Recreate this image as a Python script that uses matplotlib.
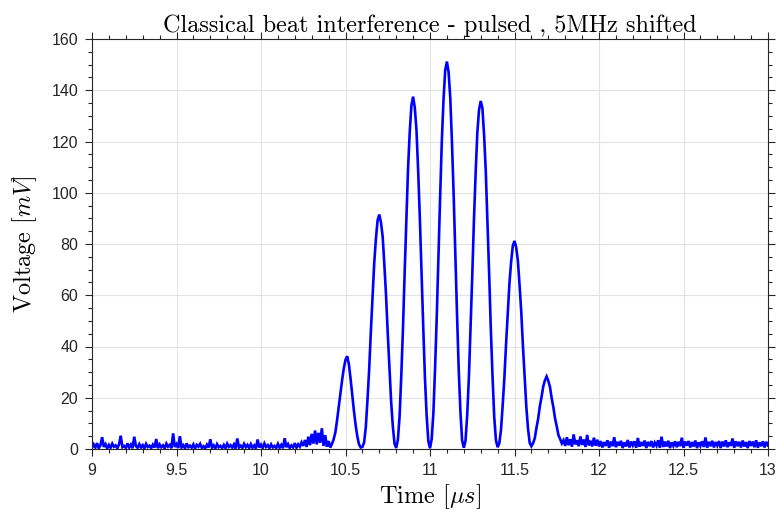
#!/usr/bin/env python3
import numpy as np
import matplotlib
import matplotlib.pyplot as plt
from matplotlib.ticker import MultipleLocator

matplotlib.use("Agg")

# ── Data (0.01 us steps from 9.00 to 13.00) ──────────────────────────────────
T_START = 9.0
T_STOP = 13.0

# flat baseline 9.00 .. 10.24 us
baseline_pre = [
    0.4, 1.8, 0.6, 2.3, 0.3, 1.5, 4.6, 0.8, 1.9, 0.2,
    1.6, 0.5, 2.1, 0.9, 1.4, 0.3, 1.8, 5.2, 0.7, 1.2,
    0.4, 2.2, 0.6, 1.7, 0.3, 4.8, 1.1, 0.5, 1.9, 0.6,
    1.5, 0.2, 2.0, 0.8, 1.3, 0.4, 1.7, 0.6, 3.9, 0.3,
    1.8, 0.7, 1.4, 0.2, 2.1, 0.9, 1.6, 0.3, 6.1, 0.8,
    1.9, 0.4, 5.0, 0.6, 1.5, 0.3, 2.2, 0.7, 1.3, 0.5,
    1.8, 0.2, 1.6, 0.9, 2.0, 0.4, 1.1, 0.3, 1.7, 0.6,
    3.8, 0.5, 1.4, 0.2, 1.9, 0.7, 1.2, 0.4, 1.6, 0.3,
    2.1, 0.8, 1.5, 0.5, 1.8, 0.2, 4.1, 0.6, 1.3, 0.4,
    2.0, 0.7, 1.6, 0.3, 1.9, 0.5, 1.4, 0.2, 3.7, 0.6,
    1.7, 0.4, 2.2, 0.8, 1.5, 0.3, 1.8, 0.6, 1.2, 0.4,
    2.0, 0.5, 1.6, 0.3, 4.2, 0.7, 1.9, 0.4, 1.4, 0.6,
    2.3, 0.5, 1.8, 0.9, 2.6,
]
# ringing just before the pulse 10.25 .. 10.41 us
pre_pulse = [1.2, 3.5, 0.8, 4.8, 1.5, 5.9, 2.1, 7.2, 1.8, 6.3,
             2.4, 8.1, 1.2, 5.4, 0.9, 3.1, 0.6]
# beat lobes
lobe_1 = [2.0, 3.8, 6.5, 11.2, 16.4, 21.8, 26.9, 31.5, 34.8, 36.2,
          33.1, 27.4, 21.2, 14.8, 9.3, 4.9, 1.8, 0.6]
lobe_2 = [0.8, 2.5, 8.4, 19.1, 31.0, 45.8, 59.2, 72.6, 82.1, 89.3,
          91.5, 88.4, 82.8, 71.9, 59.8, 45.1, 31.6, 18.5, 8.9, 2.1]
lobe_3 = [0.4, 3.6, 12.7, 28.5, 46.9, 68.8, 89.2, 109.3, 123.6, 134.1,
          137.5, 133.2, 124.4, 108.5, 89.9, 68.1, 47.6, 27.9, 13.3, 3.1]
lobe_4 = [0.3, 3.9, 14.0, 31.5, 51.8, 75.9, 98.5, 120.3, 136.4, 147.8,
          151.2, 147.1, 137.0, 119.6, 99.2, 75.1, 52.4, 30.8, 14.6, 3.4]
lobe_5 = [0.5, 3.1, 13.2, 27.7, 47.4, 67.6, 89.3, 107.6, 123.4, 132.3,
          135.8, 133.1, 122.6, 108.4, 88.7, 68.4, 46.6, 28.3, 12.6, 3.5]
lobe_6 = [0.7, 2.2, 7.4, 17.0, 27.6, 40.9, 52.7, 64.6, 73.0, 79.3,
          81.2, 78.7, 73.5, 63.9, 53.4, 40.1, 28.2, 16.4, 7.9, 2.4]
lobe_7 = [1.1, 2.3, 4.2, 8.3, 11.8, 16.7, 20.3, 24.4, 26.8, 28.3,
          26.6, 24.2, 19.8, 16.3, 11.9, 8.8, 5.4, 3.9, 2.2, 3.4]
# tail after the pulse 11.80 .. 11.99 us
post_pulse = [1.2, 4.6, 1.5, 3.8, 0.9, 5.7, 1.8, 3.4, 1.1, 4.9,
              1.6, 3.7, 0.8, 5.5, 1.4, 3.2, 1.0, 4.4, 1.3, 3.6]
# baseline 12.00 .. 13.00 us
baseline_post = [
    1.0, 3.1, 0.6, 2.7, 1.2, 3.4, 0.5, 2.9, 1.1, 4.6,
    0.7, 2.8, 1.3, 3.2, 0.4, 2.6, 1.0, 3.5, 0.6, 2.9,
    1.4, 3.0, 0.5, 4.3, 0.9, 2.7, 1.2, 3.3, 0.4, 2.8,
    1.1, 3.1, 0.6, 2.5, 1.3, 3.4, 0.5, 4.8, 0.8, 2.9,
    1.0, 3.2, 0.4, 2.6, 1.2, 3.0, 0.7, 2.8, 1.1, 4.4,
    0.5, 2.9, 1.3, 3.1, 0.6, 2.7, 1.0, 3.3, 0.4, 2.6,
    1.2, 3.0, 0.8, 4.5, 0.5, 2.8, 1.1, 3.2, 0.6, 2.7,
    1.3, 3.1, 0.4, 2.9, 1.0, 3.4, 0.7, 2.6, 1.2, 4.1,
    0.5, 3.0, 1.1, 2.8, 0.6, 3.3, 1.0, 2.7, 0.4, 3.1,
    1.2, 2.9, 0.7, 3.4, 0.5, 2.6, 1.1, 3.0, 0.6, 2.8,
    1.4,
]

X_TICKS = [9, 9.5, 10, 10.5, 11, 11.5, 12, 12.5, 13]
X_TICK_LABELS = ["9", "9.5", "10", "10.5", "11", "11.5", "12", "12.5", "13"]
Y_TICKS = [0, 20, 40, 60, 80, 100, 120, 140, 160]

TITLE = "Classical beat interference - pulsed , 5MHz shifted"
XLABEL = r"Time $[\mu s]$"
YLABEL = r"Voltage $[mV]$"

# ── Style ────────────────────────────────────────────────────────────────────
plt.rcParams["mathtext.fontset"] = "cm"
plt.rcParams["font.family"] = ["Liberation Sans", "DejaVu Sans"]
TICK_COLOR = "#262626"

voltage = np.concatenate([baseline_pre, pre_pulse, lobe_1, lobe_2, lobe_3,
                          lobe_4, lobe_5, lobe_6, lobe_7, post_pulse,
                          baseline_post])
time = np.linspace(T_START, T_STOP, len(voltage))

fig = plt.figure(figsize=(7.76, 5.13), dpi=100)
ax = fig.add_axes([92 / 776, 64 / 513, 676 / 776, 410 / 513])

ax.plot(time, voltage, color="#0000ff", lw=1.9, solid_joinstyle="miter")

ax.set_xlim(T_START, T_STOP)
ax.set_ylim(0, 160)
ax.set_xticks(X_TICKS)
ax.set_xticklabels(X_TICK_LABELS)
ax.set_yticks(Y_TICKS)
ax.xaxis.set_minor_locator(MultipleLocator(0.1))
ax.yaxis.set_minor_locator(MultipleLocator(5))

ax.tick_params(which="both", direction="out", top=True, right=True,
               color=TICK_COLOR, labelcolor=TICK_COLOR, labelsize=11.5, width=0.8)
ax.tick_params(which="major", length=5, pad=5)
ax.tick_params(which="minor", length=3)
ax.grid(which="major", color="#e3e3e3", lw=0.8)
ax.set_axisbelow(True)
for sp in ax.spines.values():
    sp.set_color(TICK_COLOR)
    sp.set_linewidth(0.8)

ax.set_title(TITLE, fontfamily="cmr10", fontsize=17.5, pad=5)
ax.set_xlabel(XLABEL, fontfamily="cmr10", fontsize=17.5, labelpad=3)
ax.set_ylabel(YLABEL, fontfamily="cmr10", fontsize=17.5, labelpad=9)

fig.savefig("out.png", dpi=100)
